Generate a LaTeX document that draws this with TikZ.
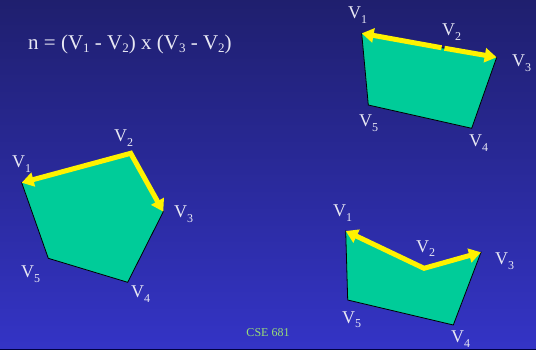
\documentclass[tikz,border=0pt]{standalone}
\usepackage{fontspec}
\setmainfont{Liberation Serif}
\usetikzlibrary{arrows.meta}
\definecolor{slidetop}{HTML}{1F1F6E}
\definecolor{slidebot}{HTML}{3434C6}
\definecolor{facegreen}{HTML}{00CC99}
\definecolor{labgrey}{HTML}{E8E8F4}
\definecolor{footgreen}{HTML}{99DD77}
\newcommand{\vlab}[1]{V\raisebox{-5pt}{\fontsize{12}{12}\selectfont #1}}
\newcommand{\vsub}[1]{V\raisebox{-2.5pt}{\fontsize{13}{13}\selectfont #1}}

\begin{document}
\begin{tikzpicture}[x=1pt, y=-1pt, >={Triangle[length=12pt,width=14pt]},
    poly/.style={draw=black, line width=0.8pt, fill=facegreen},
    vec/.style={draw=yellow, line width=5pt},
    lbl/.style={anchor=base west, inner sep=0pt, text=labgrey, font=\fontsize{18}{18}\selectfont}
  ]
    \useasboundingbox (0,0) rectangle (536,350);
    \shade[top color=slidetop, bottom color=slidebot] (0,0) rectangle (536,350);
    \fill[black!75!blue] (0,348.5) rectangle (536,350);

    \node[anchor=base west, inner sep=0pt, text=labgrey, font=\fontsize{21}{21}\selectfont] (formula) at (28,50)
      {n = (\vsub{1} - \vsub{2}) x (\vsub{3} - \vsub{2})};

    % convex polygon, left
    \coordinate (a1) at (21.7,182.7);
    \coordinate (a2) at (130.7,153.3);
    \coordinate (a3) at (163.3,211.7);
    \coordinate (a4) at (127.7,282.3);
    \coordinate (a5) at (48.3,258.3);
    \draw[poly] (a1) -- (a2) -- (a3) -- (a4) -- (a5) -- cycle;
    \draw[vec, <->] (a1) -- (a2) -- (a3);
    \node[lbl] (la1) at (12,168) {\vlab{1}};
    \node[lbl] (la2) at (114,142) {\vlab{2}};
    \node[lbl] (la3) at (174,218) {\vlab{3}};
    \node[lbl] (la4) at (131,298) {\vlab{4}};
    \node[lbl] (la5) at (21,277) {\vlab{5}};

    % collinear polygon, top right
    \coordinate (b1) at (361.7,33.3);
    \coordinate (b2) at (443,48);
    \coordinate (b3) at (496.7,57.3);
    \coordinate (b4) at (471.7,128.3);
    \coordinate (b5) at (368.3,105);
    \draw[poly] (b1) -- (b2) -- (b3) -- (b4) -- (b5) -- cycle;
    \draw[vec, ->, shorten <=1.5pt] (b2) -- (b1);
    \draw[vec, ->, shorten <=1.5pt] (b2) -- (b3);
    \node[lbl] (lb1) at (348,19) {\vlab{1}};
    \node[lbl] (lb2) at (442,36) {\vlab{2}};
    \node[lbl] (lb3) at (512,67) {\vlab{3}};
    \node[lbl] (lb4) at (469,147) {\vlab{4}};
    \node[lbl] (lb5) at (359,127) {\vlab{5}};

    % concave polygon, bottom right
    \coordinate (c1) at (345.7,231);
    \coordinate (c2) at (424,268.3);
    \coordinate (c3) at (481,252.3);
    \coordinate (c4) at (453.3,325);
    \coordinate (c5) at (347.7,300);
    \draw[poly] (c1) -- (c2) -- (c3) -- (c4) -- (c5) -- cycle;
    \draw[vec, <->] (c1) -- (c2) -- (c3);
    \node[lbl] (lc1) at (333,217) {\vlab{1}};
    \node[lbl] (lc2) at (416,252) {\vlab{2}};
    \node[lbl] (lc3) at (495,265) {\vlab{3}};
    \node[lbl] (lc4) at (451,342) {\vlab{4}};
    \node[lbl] (lc5) at (342,323) {\vlab{5}};

    \node[anchor=base, inner sep=0pt, text=footgreen, font=\fontsize{12}{12}\selectfont] (footer) at (268,336) {CSE 681};
  \end{tikzpicture}
\end{document}
